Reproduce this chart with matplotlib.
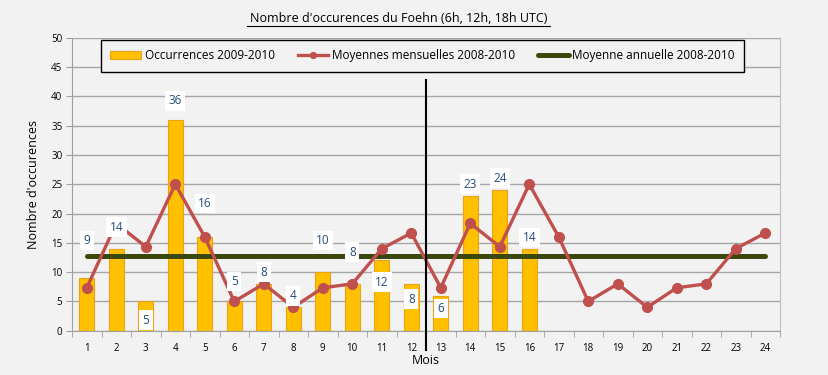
import matplotlib.pyplot as plt
import numpy as np

# ---- data ----
mois = list(range(1, 25))
occurrences = [9, 14, 5, 36, 16, 5, 8, 4, 10, 8, 12, 8, 6, 23, 24, 14]   # mois 1..16
moy_mens = [7.33, 18.33, 14.33, 25, 16, 5, 8, 4, 7.33, 8, 14, 16.67] * 2
moy_annuelle = 12.8

# decalage vertical des etiquettes (unites de l'axe) par rapport au haut de la barre
lab_off = [6.4, 3.7, -3.2, 3.2, 5.7, 3.4, 2.0, 2.0, 5.4, 5.4, -3.7, -2.6, -2.2, 2.0, 2.0, 1.9]

bg = '#f2f2f2'
plt.rcParams['font.family'] = ['Open Sans', 'DejaVu Sans']

fig = plt.figure(figsize=(8.29, 3.75), dpi=100, facecolor=bg)
ax = fig.add_axes([0.0869, 0.118, 0.8540, 0.7815], facecolor=bg)

x_bar = np.arange(1, len(occurrences) + 1)
h_bar = ax.bar(x_bar, occurrences, width=0.5, color='#FFC000', edgecolor='#E8A317',
               linewidth=0.8, zorder=2, label='Occurrences 2009-2010')
h_moy, = ax.plot(mois, moy_mens, color='#C0504D', linewidth=2.4, marker='o', markersize=7,
                 zorder=4, label='Moyennes mensuelles 2008-2010')
h_ann, = ax.plot([mois[0], mois[-1]], [moy_annuelle] * 2, color='#3A480C', linewidth=3.6,
                 solid_capstyle='round', zorder=3, label='Moyenne annuelle 2008-2010')

for xi, v, off in zip(x_bar, occurrences, lab_off):
    ax.text(xi, v + off, str(v), ha='center', va='center', fontsize=8.5, color='#244A7A',
            zorder=6, bbox=dict(facecolor='white', edgecolor='none', pad=2.5))

# separation entre les deux annees
ax.plot([12.5, 12.5], [-3.3, 42.8], color='black', linewidth=1.5, clip_on=False, zorder=7)

ax.set_xlim(0.5, 24.5)
ax.set_ylim(0, 50)
ax.set_yticks(range(0, 51, 5))
ax.set_xticks(mois)
ax.set_xticks(np.arange(0.5, 24.6, 1), minor=True)
ax.tick_params(axis='x', which='major', length=0, labelsize=7, pad=9)
ax.tick_params(axis='x', which='minor', length=4, color='#a0a0a0', direction='out')
ax.tick_params(axis='y', length=4, color='#a0a0a0', labelsize=7, pad=3)
ax.grid(axis='y', color='#a6a6a6', linewidth=1, zorder=0)
ax.set_axisbelow(True)
ax.spines['top'].set_visible(False)
ax.spines['left'].set_color('#a0a0a0')
ax.spines['bottom'].set_color('#a0a0a0')
ax.spines['right'].set_color('#c0c0c0')

ax.set_xlabel('Mois', fontsize=9, labelpad=0)
ax.set_ylabel("Nombre d'occurences", fontsize=9, labelpad=8)

fig.text(0.481, 0.952, "Nombre d'occurences du Foehn (6h, 12h, 18h UTC)", ha='center',
         va='center', fontsize=9)
fig.add_artist(plt.Line2D([0.298, 0.664], [0.931, 0.931], color='black', linewidth=0.8))

leg = fig.legend([h_bar, h_moy, h_ann],
                 ['Occurrences 2009-2010', 'Moyennes mensuelles 2008-2010', 'Moyenne annuelle 2008-2010'],
                 loc='center', bbox_to_anchor=(0.1146, 0.8107, 0.790, 0.08), mode='expand',
                 ncol=3, fontsize=8.5, frameon=True, fancybox=False, borderpad=0.8,
                 handlelength=2.6, handletextpad=0.3, columnspacing=1.5, markerscale=0.6)
leg.get_frame().set_edgecolor('black')
leg.get_frame().set_facecolor(bg)
leg.get_frame().set_alpha(1)
leg.get_frame().set_linewidth(1)

fig.savefig('out.png', dpi=100, facecolor=bg)
